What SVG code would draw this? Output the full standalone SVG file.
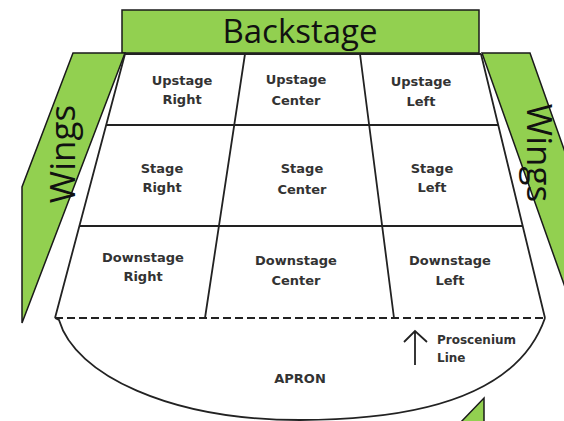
<svg xmlns="http://www.w3.org/2000/svg" width="564" height="421" viewBox="0 0 564 421">
<style>
.green{fill:#92D050;stroke:#1a1a1a;stroke-width:1.5;stroke-linejoin:miter}
.big{font-family:"Open Sans","DejaVu Sans",sans-serif;fill:#111}
.lbl{font-family:"DejaVu Sans","Verdana",sans-serif;font-weight:bold;font-size:13px;fill:#333;text-anchor:middle}
.small{font-family:"DejaVu Sans","Verdana",sans-serif;font-weight:bold;font-size:12px;fill:#333}
.line{stroke:#222;stroke-width:1.8;fill:none}
</style>
<rect width="564" height="421" fill="#fff"/>
<g id="backstage">
<rect class="green" x="122" y="10" width="357" height="43"/>
<text class="big" x="300" y="43" font-size="33" text-anchor="middle">Backstage</text>
</g>
<g id="wings-left">
<polygon class="green" points="73,53 125,53 22,323 22,187"/>
<text class="big" font-size="35" text-anchor="middle" transform="translate(75,154) rotate(-90)">Wings</text>
</g>
<g id="wings-right">
<polygon class="green" points="482,53 530,53 566,155 566,290"/>
<text class="big" font-size="35" text-anchor="middle" transform="translate(527,153) rotate(90)">Wings</text>
</g>
<g id="wing-bottom">
<polygon class="green" points="484,398 484,423 460,423"/>
</g>
<g id="connectors">
<path class="line" d="M125,54 L481,54 M125,54 L55,318 M481,54 L545,318"/>
<path class="line" d="M106,125 L499,125 M80,226 L522,226"/>
<path class="line" d="M245,54 L205,318 M360,54 L394,318"/>
<path class="line" stroke-dasharray="8,4" d="M55,318 L545,318"/>
<path class="line" d="M55,318 L59,320 C 75,375 170,420 300,420 C 430,420 520,390 545,318"/>
<path class="line" d="M415,365 L415,331 M404,342 L415,331 L427,342"/>
</g>
<g id="upstage-right"><text class="lbl" x="182" y="85">Upstage</text><text class="lbl" x="182" y="104">Right</text></g>
<g id="upstage-center"><text class="lbl" x="296" y="84">Upstage</text><text class="lbl" x="296" y="105">Center</text></g>
<g id="upstage-left"><text class="lbl" x="421" y="86">Upstage</text><text class="lbl" x="421" y="106">Left</text></g>
<g id="stage-right"><text class="lbl" x="162" y="173">Stage</text><text class="lbl" x="162" y="192">Right</text></g>
<g id="stage-center"><text class="lbl" x="302" y="173">Stage</text><text class="lbl" x="302" y="194">Center</text></g>
<g id="stage-left"><text class="lbl" x="432" y="173">Stage</text><text class="lbl" x="432" y="192">Left</text></g>
<g id="downstage-right"><text class="lbl" x="143" y="262">Downstage</text><text class="lbl" x="143" y="281">Right</text></g>
<g id="downstage-center"><text class="lbl" x="296" y="265">Downstage</text><text class="lbl" x="296" y="285">Center</text></g>
<g id="downstage-left"><text class="lbl" x="450" y="265">Downstage</text><text class="lbl" x="450" y="285">Left</text></g>
<g id="apron"><text class="lbl" x="300" y="383">APRON</text></g>
<g id="proscenium"><text class="small" x="437" y="344">Proscenium</text><text class="small" x="437" y="362">Line</text></g>
</svg>
